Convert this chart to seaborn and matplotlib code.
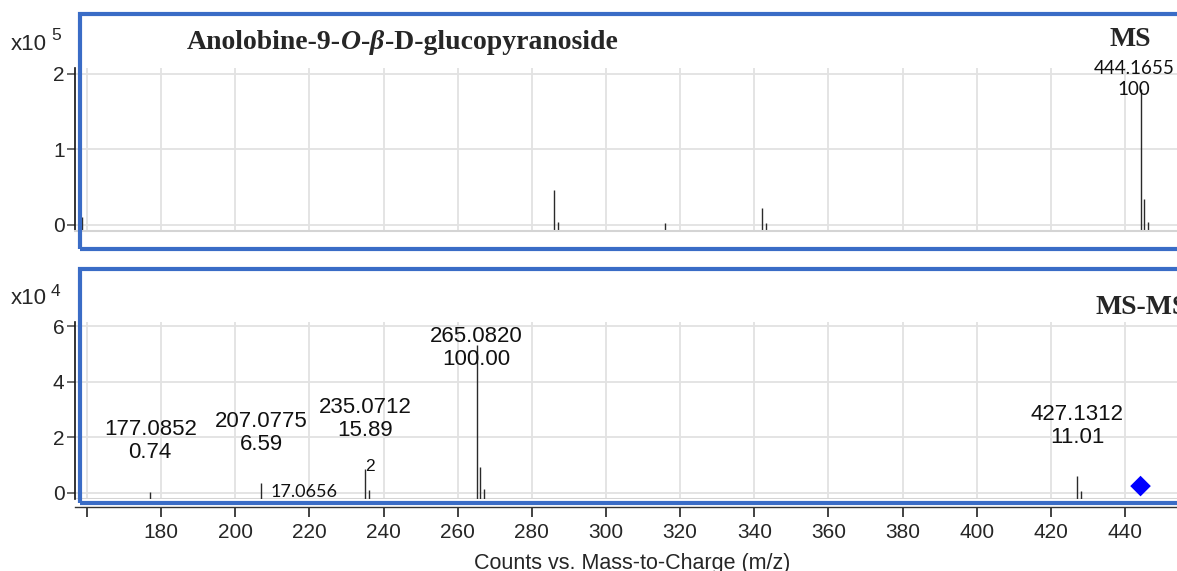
import matplotlib
matplotlib.use("Agg")
import matplotlib.pyplot as plt
from matplotlib.patches import Rectangle
import pandas as pd
import seaborn as sns

# ---- MS (full scan) peaks: m/z and intensity in units of 1e5 counts ----
ms1_mz = [158.7, 286.07, 287.08, 315.9, 342.2, 343.2, 444.1655, 445.17, 446.17]
ms1_int = [0.10, 0.47, 0.04, 0.02, 0.23, 0.03, 1.80, 0.34, 0.04]
ms1_label_mz = "444.1655"
ms1_label_rel = "100"

# ---- MS-MS fragments: relative abundance (%) of the base peak ----
msms_base = 5.32  # base peak height, units of 1e4 counts
msms_mz = [177.0852, 207.0775, 235.0712, 265.0820, 427.1312]
msms_mz_text = ["177.0852", "207.0775", "235.0712", "265.0820", "427.1312"]
msms_rel = [0.74, 6.59, 15.89, 100.00, 11.01]
msms_rel_text = ["0.74", "6.59", "15.89", "100.00", "11.01"]
# isotope / minor peaks (units of 1e4 counts)
minor_mz = [236.07, 266.08, 267.09, 428.13]
minor_int = [0.10, 0.94, 0.12, 0.05]

precursor_mz = 444.1655
precursor_y = 0.24

x_ticks = [160, 180, 200, 220, 240, 260, 280, 300, 320, 340, 360, 380, 400, 420, 440]
x_tick_labels = [""] + [str(v) for v in x_ticks[1:]]

title_parts = [("Anolobine-9-", "normal"), ("O", "italic"), ("-", "normal"),
               ("\u03b2", "italic"), ("-D-glucopyranoside", "normal")]

sns.set_style("white")
SANS = "Liberation Sans"
SERIF = "Liberation Serif"
plt.rcParams["font.family"] = [SANS, "DejaVu Sans"]

W, H = 1177, 571
fig = plt.figure(figsize=(W / 100, H / 100), dpi=100)


def px_axes(l, t, r, b):
    return fig.add_axes([l / W, 1 - b / H, (r - l) / W, (b - t) / H])


def fig_text(x, y, s, **kw):
    return fig.text(x / W, 1 - y / H, s, **kw)


ax1 = px_axes(75, 68, 1177, 231)
ax2 = px_axes(75, 322, 1177, 499)

XLIM = (156.8, 454.0)
ylims = {ax1: (-0.0795, 2.079), ax2: (-0.227, 6.16)}
grid_c = "#e2e2e2"
stick_c = "#2a2a2a"

for ax in (ax1, ax2):
    ax.set_xlim(*XLIM)
    ax.set_ylim(*ylims[ax])
    ax.set_xticks(x_ticks)
    ax.grid(True, color=grid_c, lw=1.3)
    ax.set_axisbelow(True)
    for s in ("top", "right"):
        ax.spines[s].set_visible(False)
    ax.spines["left"].set_color("#111111")
    ax.spines["left"].set_linewidth(1.2)
    ax.tick_params(axis="y", length=5.5, width=1.2, color="#555555",
                   labelsize=15, pad=2, left=True)

# ---- top panel: full-scan MS ----
ms1 = pd.DataFrame({"mz": ms1_mz, "intensity": ms1_int})
ybot1 = ylims[ax1][0]
ax1.vlines(ms1["mz"], ybot1, ms1["intensity"], color=stick_c, lw=1.0)
ax1.set_yticks([0, 1, 2])
ax1.spines["bottom"].set_color("#d4d4d4")
ax1.spines["bottom"].set_linewidth(1.5)
ax1.tick_params(axis="x", bottom=False, labelbottom=False)
ax1.text(precursor_mz - 1.8, 1.93, f"{ms1_label_mz}\n{ms1_label_rel}",
         ha="center", va="center", fontsize=13.5, family="Lato",
         linespacing=1.3, color="#111111")

# ---- bottom panel: MS-MS ----
frag = pd.DataFrame({"mz": msms_mz, "rel": msms_rel})
frag["intensity"] = msms_base * frag["rel"] / 100.0
ybot2 = ylims[ax2][0]
ax2.vlines(frag["mz"], ybot2, frag["intensity"], color=stick_c, lw=1.0)
ax2.vlines(minor_mz, ybot2, minor_int, color=stick_c, lw=1.0)
ax2.axhline(ybot2, color="#d4d4d4", lw=1.5, zorder=1)
sns.scatterplot(x=[precursor_mz], y=[precursor_y], marker="D", s=110,
                color="#0000ff", edgecolor="none", ax=ax2, zorder=5)
ax2.set_yticks([0, 2, 4, 6])
ax2.set_xticklabels(x_tick_labels)
ax2.spines["bottom"].set_position(("outward", 6))
ax2.spines["bottom"].set_color("#333333")
ax2.spines["bottom"].set_linewidth(1.0)
ax2.tick_params(axis="x", bottom=True, length=7.5, width=1.2, color="#222222",
                labelsize=15, pad=4)
ax2.set_xlabel("")
ax2.set_ylabel("")

label_y = {177.0852: 1.86, 207.0775: 2.15, 235.0712: 2.65,
           265.0820: 5.23, 427.1312: 2.40}
for mz, mt, rt in zip(msms_mz, msms_mz_text, msms_rel_text):
    ax2.text(mz, label_y[mz], f"{mt}\n{rt}", ha="center", va="center",
             fontsize=16, linespacing=1.15, color="#111111")

ax2.text(236.4, 0.93, "2", ha="center", va="center", fontsize=12.5,
         color="#111111")
ax2.text(218.6, 0.02, "17.0656", ha="center", va="center", fontsize=13,
         family="Lato", color="#111111")

# ---- scale factors ----
fig_text(11, 44, "x10", fontsize=16, va="center", ha="left")
fig_text(51, 36, "5", fontsize=12.5, va="center", ha="left")
fig_text(11, 298, "x10", fontsize=16, va="center", ha="left")
fig_text(51, 292, "4", fontsize=12.5, va="center", ha="left")

# ---- compound name, built piece by piece ----
TFS = 20
prev = fig_text(187, 49, title_parts[0][0], fontsize=TFS, family=SERIF,
                weight="bold", va="baseline", ha="left")
for txt, style in title_parts[1:]:
    prev = ax1.annotate(txt, xy=(1, 0), xycoords=prev, va="bottom", ha="left",
                        fontsize=TFS, family=SERIF, weight="bold",
                        style=style, annotation_clip=False)

fig_text(1130, 40, "MS", fontsize=TFS, family=SERIF, weight="bold",
         ha="center", va="center")
fig_text(1095, 308, "MS-MS", fontsize=TFS, family=SERIF, weight="bold",
         ha="left", va="center")

fig_text(632, 569, "Counts vs. Mass-to-Charge (m/z)", fontsize=15.5,
         ha="center", va="baseline")

# ---- panel frames ----
frame_c = "#3a6cc6"
for top, bot in ((14.3, 248.5), (269, 503.3)):
    fig.patches.append(Rectangle((80 / W, 1 - bot / H), (1300 - 80) / W,
                                 (bot - top) / H, transform=fig.transFigure,
                                 fill=False, edgecolor=frame_c, lw=3.0,
                                 zorder=10))

fig.savefig("out.png", dpi=100)
